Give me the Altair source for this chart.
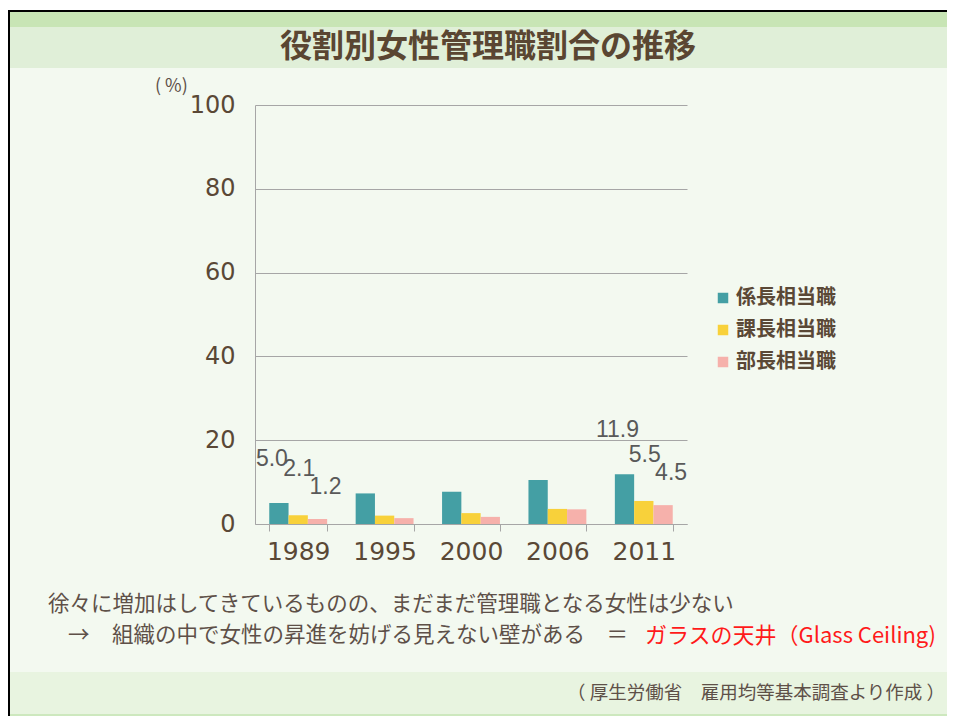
import altair as alt
import pandas as pd

# ---------------- data ----------------
years = ["1989", "1995", "2000", "2006", "2011"]
series = ["係長相当職", "課長相当職", "部長相当職"]
kakaricho = [5.0, 7.3, 7.7, 10.5, 11.9]
kacho = [2.1, 2.0, 2.6, 3.6, 5.5]
bucho = [1.2, 1.4, 1.7, 3.5, 4.5]
y_ticks = [0, 20, 40, 60, 80, 100]
labelled_years = ["1989", "2011"]

title_text = "役割別女性管理職割合の推移"
unit_text = "(  %)"
note_line1 = "徐々に増加はしてきているものの、まだまだ管理職となる女性は少ない"
note_arrow = "→"
note_line2 = "組織の中で女性の昇進を妨げる見えない壁がある　＝"
note_red = "ガラスの天井（Glass Ceiling)"
source_text = "（ 厚生労働省　雇用均等基本調査より作成 ）"

rows = []
for name, vals in zip(series, [kakaricho, kacho, bucho]):
    for yr, v in zip(years, vals):
        rows.append({"year": yr, "series": name, "value": v})
df = pd.DataFrame(rows)

# ---------------- styling ----------------
colors = ["#449FA4", "#F8D13A", "#F6B1AB"]
W, H = 432, 419
PAD_L, PAD_T = 247, 97
TOTAL_W, TOTAL_H = 939, 708
FONT_JP = "Noto Sans CJK JP"
BROWN = "#5A4836"
GRAY = "#5E5048"
AXIS_GRAY = "#A6A6A6"

x_enc = alt.X(
    "year:N", sort=years,
    scale=alt.Scale(paddingInner=0.33, paddingOuter=0.165),
    axis=alt.Axis(title=None, labelAngle=0, labelFont="DejaVu Sans", labelFontSize=25,
                  labelColor=BROWN, tickBand="extent", ticks=True, tickSize=7,
                  tickColor=AXIS_GRAY, domainColor=AXIS_GRAY, labelPadding=8, grid=False),
)
y_enc = alt.Y(
    "value:Q",
    scale=alt.Scale(domain=[0, 100]),
    axis=alt.Axis(title=None, values=y_ticks, ticks=False, domainColor=AXIS_GRAY,
                  gridColor=AXIS_GRAY, labelFont="DejaVu Sans", labelFontSize=24,
                  labelColor=BROWN, labelPadding=20),
)
xoff_enc = alt.XOffset("series:N", sort=series, scale=alt.Scale(domain=series))

bars = alt.Chart(df).mark_bar().encode(
    x=x_enc, y=y_enc, xOffset=xoff_enc,
    color=alt.Color(
        "series:N", sort=series,
        scale=alt.Scale(domain=series, range=colors),
        legend=alt.Legend(title=None, orient="none", legendX=458, legendY=183, padding=0,
                          symbolType="square", symbolSize=110, symbolStrokeWidth=0,
                          labelFont=FONT_JP, labelFontSize=20, labelFontWeight="bold",
                          labelColor=BROWN, rowPadding=12, labelOffset=3),
    ),
)


def label_layer(name, dx, dy):
    return alt.Chart(df).transform_filter(
        alt.FieldEqualPredicate(field="series", equal=name)
    ).transform_filter(
        alt.FieldOneOfPredicate(field="year", oneOf=labelled_years)
    ).mark_text(dx=dx, dy=dy, font="Liberation Sans", fontSize=23, color="#595959").encode(
        x=x_enc, y=y_enc, xOffset=xoff_enc,
        text=alt.Text("value:Q", format=".1f"),
    )


labels = [
    label_layer(series[0], -7, -44),
    label_layer(series[1], 1, -46),
    label_layer(series[2], 8, -32),
]


def band(x1, x2, y1, y2, color):
    return alt.Chart(alt.Data(values=[{}])).mark_rect(color=color).encode(
        x=alt.value(x1), x2=alt.value(x2), y=alt.value(y1), y2=alt.value(y2)
    )


def txt(text, x, y, size, color=GRAY, align="left", font=FONT_JP, **kw):
    return alt.Chart(alt.Data(values=[{}])).mark_text(
        text=text, align=align, baseline="middle", fontSize=size, font=font, color=color, **kw
    ).encode(x=alt.value(x), y=alt.value(y))


deco = [
    band(-250, 700, -100, -95, "#FFFFFF"),
    band(-250, 700, -95, -93, "#000000"),
    band(-250, -245, -95, 620, "#000000"),
    band(-245, 700, -93, -78, "#C8E5B5"),
    band(-245, 700, -78, -37, "#E0EFD8"),
    band(-245, 700, 567, 609, "#E8F4E0"),
    band(-245, 700, 609, 620, "#CDE8BE"),
]

texts = [
    txt(title_text, 233, -58, 32, color="#5A4632", align="center", fontWeight="bold"),
    txt(unit_text, -100, -18, 18),
    txt(note_line1, -207, 500, 21.5),
    txt(note_arrow, -187, 531, 21.5),
    txt(note_line2, -143, 531, 21.5),
    txt(note_red, 390, 531, 22, color="#FF1A1A"),
    txt(source_text, 690, 588, 18.5, align="right"),
]

chart = alt.layer(*deco, bars, *labels, *texts).properties(
    width=W, height=H,
    padding={"left": PAD_L, "top": PAD_T, "right": TOTAL_W - PAD_L - W,
             "bottom": TOTAL_H - PAD_T - H},
    autosize=alt.AutoSizeParams(type="none"),
    background="#F3F9F0",
).configure_view(strokeWidth=0)

chart.save("out.html", embed_options={"renderer": "svg", "actions": False})
